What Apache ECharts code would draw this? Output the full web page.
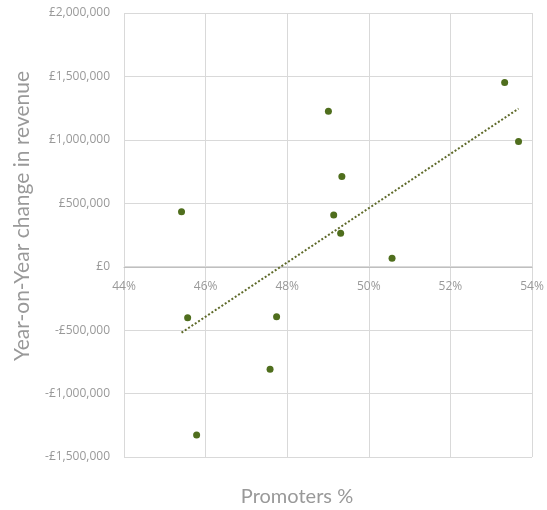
<!DOCTYPE html>
<html>
<head>
<meta charset="utf-8">
<script src="https://cdn.jsdelivr.net/npm/echarts@6/dist/echarts.min.js"></script>
<style>
html,body{margin:0;padding:0;background:#fff;}
#chart{width:547px;height:510px;}
</style>
</head>
<body>
<div id="chart"></div>
<script>
// Promoters % (x) and year-on-year revenue change in £ (y)
const promotersPct = [45.41, 49.01, 53.33, 53.67, 49.34, 49.14, 49.31, 50.57, 45.56, 47.74, 47.58, 45.78];
const revenueChange = [434000, 1225000, 1453000, 988000, 712000, 407000, 263000, 66000, -402000, -394000, -809000, -1327000];
// Linear trendline endpoints
const trendX = [45.41, 53.67];
const trendY = [-520000, 1246000];

const xTitle = 'Promoters %';
const yTitle = 'Year-on-Year change in revenue';

const points = promotersPct.map((x, i) => [x, revenueChange[i]]);
const trend = trendX.map((x, i) => [x, trendY[i]]);

function money(v) {
  const s = Math.abs(v).toLocaleString('en-GB');
  return (v < 0 ? '-£' : '£') + s;
}

const FONT = 'Open Sans';
const chart = echarts.init(document.getElementById('chart'), null, {renderer: 'canvas'});
chart.setOption({
  animation: false,
  backgroundColor: '#ffffff',
  grid: {left: 124, right: 15, top: 13, bottom: 53, containLabel: false},
  xAxis: {
    type: 'value', min: 44, max: 54, interval: 2,
    position: 'bottom', offset: -190,
    axisLine: {show: true, onZero: false, lineStyle: {color: '#bfbfbf', width: 1}},
    axisTick: {show: false},
    axisLabel: {formatter: v => v + '%', color: '#999999', fontFamily: FONT, fontSize: 12, margin: 14},
    splitLine: {show: true, lineStyle: {color: '#d9d9d9', width: 1}}
  },
  yAxis: {
    type: 'value', min: -1500000, max: 2000000, interval: 500000,
    axisLine: {show: false},
    axisTick: {show: false},
    axisLabel: {formatter: money, color: '#999999', fontFamily: FONT, fontSize: 12, margin: 14},
    splitLine: {show: true, lineStyle: {color: '#d9d9d9', width: 1}}
  },
  graphic: [
    {type: 'text', x: 297, y: 497,
     style: {text: xTitle, fill: '#999999', font: '20px Lato', align: 'center', verticalAlign: 'middle'}},
    {type: 'text', x: 22, y: 216, rotation: Math.PI / 2,
     style: {text: yTitle, fill: '#999999', font: '21px Lato', align: 'center', verticalAlign: 'middle'}}
  ],
  series: [
    {type: 'scatter', data: points, symbol: 'circle', symbolSize: 7,
     itemStyle: {color: '#4f6e1d', opacity: 1}, z: 3},
    {type: 'line', data: trend, symbol: 'none', z: 2,
     lineStyle: {color: '#5f6a2a', width: 2, type: [2, 2]}}
  ]
});
</script>
</body>
</html>
